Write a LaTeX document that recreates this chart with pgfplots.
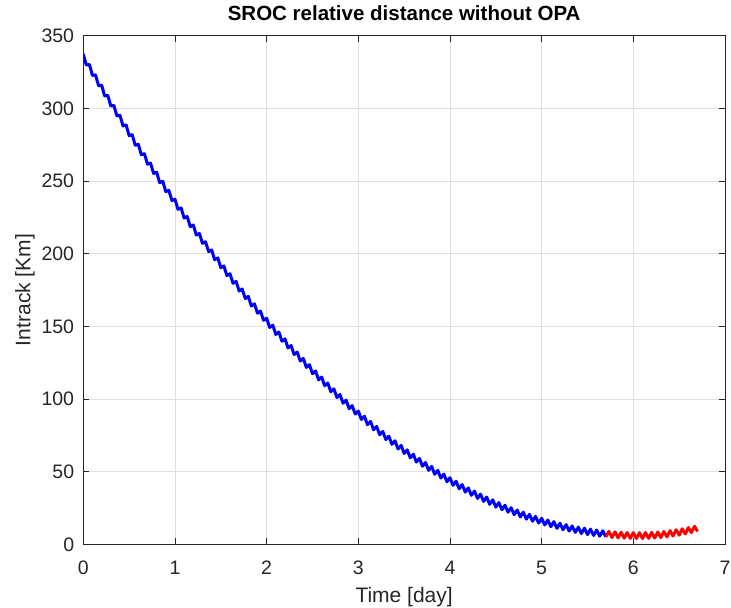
\documentclass[border=0pt]{standalone}
\usepackage{fontspec}
\setmainfont{Liberation Sans}
\usepackage{pgfplots}
\pgfplotsset{compat=1.18}
\usepackage{pgfplotstable}

\definecolor{axgray}{RGB}{38,38,38}
\definecolor{gridgray}{RGB}{223,223,223}

\pgfplotstableread{
t y
0.000 337.4
0.033 329.8
0.067 330.2
0.100 322.6
0.133 323.1
0.167 315.5
0.200 316.0
0.233 308.5
0.267 309.0
0.300 301.6
0.333 302.1
0.367 294.7
0.400 295.3
0.433 287.9
0.467 288.6
0.500 281.2
0.533 281.9
0.567 274.6
0.600 275.3
0.633 268.1
0.667 268.8
0.700 261.6
0.733 262.4
0.767 255.2
0.800 256.1
0.833 248.9
0.867 249.8
0.900 242.7
0.933 243.6
0.967 236.6
1.000 237.5
1.033 230.5
1.067 231.5
1.100 224.5
1.133 225.6
1.167 218.6
1.200 219.7
1.233 212.8
1.267 213.9
1.300 207.1
1.333 208.2
1.367 201.4
1.400 202.6
1.433 195.8
1.467 197.1
1.500 190.3
1.533 191.6
1.567 184.9
1.600 186.2
1.633 179.6
1.667 180.9
1.700 174.3
1.733 175.7
1.767 169.1
1.800 170.6
1.833 164.0
1.867 165.5
1.900 159.0
1.933 160.5
1.967 154.1
2.000 155.6
2.033 149.2
2.067 150.8
2.100 144.4
2.133 146.1
2.167 139.7
2.200 141.4
2.233 135.1
2.267 136.8
2.300 130.6
2.333 132.3
2.367 126.1
2.400 127.9
2.433 121.7
2.467 123.6
2.500 117.4
2.533 119.3
2.567 113.2
2.600 115.1
2.633 109.1
2.667 111.0
2.700 105.0
2.733 107.0
2.767 101.0
2.800 103.1
2.833 97.1
2.867 99.2
2.900 93.3
2.933 95.4
2.967 89.6
3.000 91.7
3.033 85.9
3.067 88.1
3.100 82.3
3.133 84.6
3.167 78.8
3.200 81.1
3.233 75.4
3.267 77.7
3.300 72.1
3.333 74.4
3.367 68.8
3.400 71.2
3.433 65.6
3.467 68.1
3.500 62.5
3.533 65.0
3.567 59.5
3.600 62.0
3.633 56.6
3.667 59.1
3.700 53.7
3.733 56.3
3.767 50.9
3.800 53.6
3.833 48.2
3.867 50.9
3.900 45.6
3.933 48.3
3.967 43.1
4.000 45.8
4.033 40.6
4.067 43.4
4.100 38.2
4.133 41.1
4.167 35.9
4.200 38.8
4.233 33.7
4.267 36.6
4.300 31.6
4.333 34.5
4.367 29.5
4.400 32.5
4.433 27.5
4.467 30.6
4.500 25.6
4.533 28.7
4.567 23.8
4.600 26.9
4.633 22.1
4.667 25.2
4.700 20.4
4.733 23.6
4.767 18.8
4.800 22.1
4.833 17.3
4.867 20.6
4.900 15.9
4.933 19.2
4.967 14.6
5.000 17.9
5.033 13.3
5.067 16.7
5.100 12.1
5.133 15.6
5.167 11.0
5.200 14.5
5.233 10.0
5.267 13.5
5.300 9.1
5.333 12.6
5.367 8.2
5.400 11.8
5.433 7.4
5.467 11.1
5.500 6.7
5.533 10.4
5.567 6.1
5.600 9.8
5.633 5.6
5.667 9.3
5.700 5.1
}\bluedata

\pgfplotstableread{
t y
5.700 5.1
5.733 8.9
5.767 4.7
5.800 8.6
5.833 4.4
5.867 8.3
5.900 4.2
5.933 8.1
5.967 4.1
6.000 8.0
6.033 4.0
6.067 8.0
6.100 4.0
6.133 8.1
6.167 4.1
6.200 8.2
6.233 4.3
6.267 8.4
6.300 4.6
6.333 8.8
6.367 5.1
6.400 9.4
6.433 5.7
6.467 10.0
6.500 6.3
6.533 10.7
6.567 7.1
6.600 11.5
6.633 8.1
6.667 12.4
6.700 8.9
}\reddata

\begin{document}
\begin{tikzpicture}
\begin{axis}[
  name=ax,
  scale only axis,
  width=641.7bp, height=508.6bp,
  xmin=0, xmax=7, ymin=0, ymax=350,
  xtick={0,1,2,3,4,5,6,7},
  ytick={0,50,100,150,200,250,300,350},
  grid=major,
  major grid style={gridgray, line width=0.6bp},
  axis line style={axgray, line width=0.8bp},
  tick style={axgray, line width=0.8bp},
  tick align=inside,
  tick pos=both,
  major tick length=6bp,
  /pgf/number format/assume math mode=true,
  ticklabel style={font=\fontsize{19.5bp}{22bp}\selectfont, text=axgray},
  yticklabel style={anchor=east, inner sep=0pt, xshift=-9bp},
  xticklabel style={anchor=north, inner sep=0pt, yshift=-16.5bp},
  title={SROC relative distance without OPA},
  title style={font=\bfseries\fontsize{20.5bp}{24bp}\selectfont, text=black,
    at={(axis description cs:0.5,1.0183)}, anchor=base, inner sep=0pt},
  xlabel={Time [day]},
  xlabel style={font=\fontsize{21bp}{24bp}\selectfont, text=axgray,
    at={(axis description cs:0.5,-0.1154)}, anchor=base, inner sep=0pt},
  ylabel={Intrack [Km]},
  ylabel style={font=\fontsize{21bp}{24bp}\selectfont, text=axgray,
    at={(axis description cs:-0.0823,0.5)}, anchor=base, inner sep=0pt},
]
\addplot[color={rgb,1:red,0;green,0;blue,1}, line width=3bp, line join=round, mark=none] table[x=t,y=y]{\bluedata};
\addplot[color={rgb,1:red,1;green,0;blue,0}, line width=3bp, line join=round, mark=none] table[x=t,y=y]{\reddata};
\end{axis}
\pgfresetboundingbox
\path ([shift={(-83.3bp,-63.7bp)}]ax.south west) rectangle ([shift={(6bp,35.7bp)}]ax.north east);
\end{tikzpicture}
\end{document}
